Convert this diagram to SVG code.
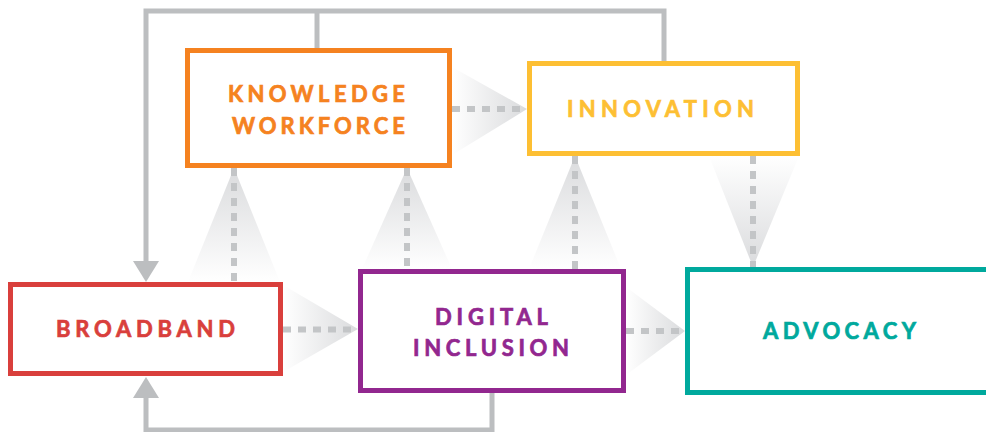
<svg xmlns="http://www.w3.org/2000/svg" width="986" height="432" viewBox="0 0 986 432">
<defs>
<linearGradient id="gR" x1="0" y1="0" x2="1" y2="0"><stop offset="0" stop-color="#ffffff"/><stop offset="1" stop-color="#dadbdd"/></linearGradient>
<linearGradient id="gU" x1="0" y1="1" x2="0" y2="0"><stop offset="0" stop-color="#ffffff"/><stop offset="1" stop-color="#dadbdd"/></linearGradient>
<linearGradient id="gD" x1="0" y1="0" x2="0" y2="1"><stop offset="0" stop-color="#ffffff"/><stop offset="1" stop-color="#dadbdd"/></linearGradient>
<style>
.box{fill:#ffffff;stroke-width:5}
.lbl{font-family:Lato,"Open Sans","DejaVu Sans",sans-serif;font-weight:700;font-size:22px;stroke-width:0.7}
.conn{fill:none;stroke:#bcbec0;stroke-width:5}
.head{fill:#bcbec0}
.dash{fill:none;stroke:#c3c5c7;stroke-width:6;stroke-dasharray:8 7}
</style>
</defs>
<rect width="986" height="432" fill="#ffffff"/>
<g id="influences">
<polygon points="452,67 452,155 527,109" fill="url(#gR)"/>
<polygon points="283,285 283,372 358,329" fill="url(#gR)"/>
<polygon points="626,287 626,375 685,331" fill="url(#gR)"/>
<polygon points="234,168 188,282 280,282" fill="url(#gU)"/>
<polygon points="407,168 362,269 452,269" fill="url(#gU)"/>
<polygon points="575,156 529,269 621,269" fill="url(#gU)"/>
<polygon points="709,156 799,156 753,267" fill="url(#gD)"/>
<line class="dash" x1="452" y1="109" x2="527" y2="109"/>
<line class="dash" x1="283" y1="329.5" x2="358" y2="329.5"/>
<line class="dash" x1="626" y1="331" x2="685" y2="331"/>
<line class="dash" x1="234" y1="168" x2="234" y2="282"/>
<line class="dash" x1="407" y1="168" x2="407" y2="269"/>
<line class="dash" x1="575" y1="156" x2="575" y2="269"/>
<line class="dash" x1="753" y1="156" x2="753" y2="267"/>
</g>
<g id="connectors">
<path class="conn" d="M146,262 V11 H664 V62"/>
<path class="conn" d="M317,11 V49"/>
<polygon class="head" points="133,261 159,261 146,282"/>
<path class="conn" d="M492,392 V430 H146 V397"/>
<polygon class="head" points="133,398 159,398 146,377"/>
</g>
<g id="knowledge-workforce">
<rect class="box" x="187.5" y="50.5" width="262" height="115" stroke="#f58220"/>
<text class="lbl" fill="#f58220" stroke="#f58220" x="228" y="102" textLength="177" lengthAdjust="spacing">KNOWLEDGE</text>
<text class="lbl" fill="#f58220" stroke="#f58220" x="232" y="134" textLength="173" lengthAdjust="spacing">WORKFORCE</text>
</g>
<g id="innovation">
<rect class="box" x="529.5" y="63.5" width="268" height="90" stroke="#fdbf33"/>
<text class="lbl" fill="#fdbf33" stroke="#fdbf33" x="567" y="117" textLength="187" lengthAdjust="spacing">INNOVATION</text>
</g>
<g id="broadband">
<rect class="box" x="10.5" y="284.5" width="270" height="89" stroke="#d93f3c"/>
<text class="lbl" fill="#d93f3c" stroke="#d93f3c" x="56" y="337" textLength="179" lengthAdjust="spacing">BROADBAND</text>
</g>
<g id="digital-inclusion">
<rect class="box" x="360.5" y="271.5" width="263" height="119" stroke="#92278f"/>
<text class="lbl" fill="#92278f" stroke="#92278f" x="435" y="325" textLength="113" lengthAdjust="spacing">DIGITAL</text>
<text class="lbl" fill="#92278f" stroke="#92278f" x="413" y="356" textLength="156" lengthAdjust="spacing">INCLUSION</text>
</g>
<g id="advocacy">
<rect class="box" x="687.5" y="269.5" width="320" height="123" stroke="#00a99d"/>
<text class="lbl" fill="#00a99d" stroke="#00a99d" x="763" y="339" textLength="153" lengthAdjust="spacing">ADVOCACY</text>
</g>
</svg>
